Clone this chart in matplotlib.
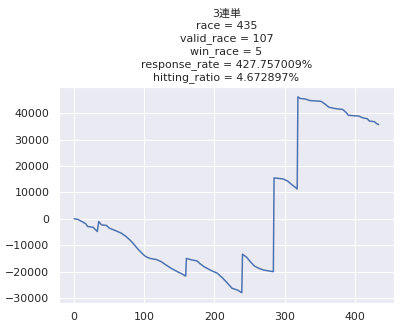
import matplotlib
matplotlib.use("Agg")
import matplotlib.pyplot as plt
import seaborn as sns

# race index and cumulative balance
race_idx = [0, 5, 8, 13, 17, 19, 27, 30, 33, 35, 39, 46, 50, 60, 67, 74, 81,
            86, 91, 98, 102, 108, 117, 124, 131, 138, 147, 154, 159, 160, 168,
            175, 179, 185, 194, 204, 212, 218, 225, 233, 239, 240, 246, 251,
            257, 263, 270, 279, 284, 285, 298, 305, 310, 315, 318, 319, 322,
            329, 336, 352, 357, 363, 371, 383, 388, 391, 406, 411, 418, 421,
            428, 431, 434]
balance = [0, -200, -600, -1300, -2000, -2900, -3200, -4000, -4800, -1000,
           -2300, -2500, -3500, -4600, -5400, -6700, -8400, -9900, -11500,
           -13400, -14300, -15000, -15400, -16200, -17500, -18700, -20000,
           -20900, -21700, -15000, -15600, -15900, -16900, -18100, -19400,
           -20600, -22500, -24200, -26300, -27000, -28000, -13400, -14600,
           -16200, -17900, -18700, -19400, -19800, -20000, 15500, 15100,
           14200, 13000, 12000, 11300, 46200, 45600, 45400, 44800, 44500,
           43600, 42300, 41800, 41400, 40200, 39200, 38900, 38300, 37900,
           37000, 36800, 36100, 35700]

title_lines = ["3連単", "race = 435", "valid_race = 107", "win_race = 5",
               "response_rate = 427.757009%", "hitting_ratio = 4.672897%"]

sns.set_theme()
plt.rcParams['font.family'] = ['DejaVu Sans', 'Noto Sans CJK JP']

fig = plt.figure(figsize=(401 / 72, 331 / 72), dpi=72)
ax = fig.add_axes([0.147, 0.086, 0.835, 0.651])
ax.plot(race_idx, balance)
ax.set_title("\n".join(title_lines), fontsize=11, pad=7, linespacing=1.25)
ax.tick_params(labelsize=11)

fig.savefig("out.png", dpi=72)
